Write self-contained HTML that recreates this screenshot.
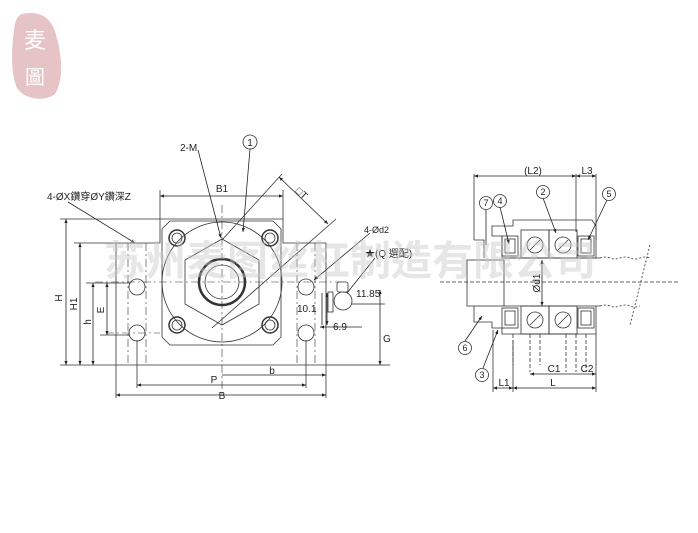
<!DOCTYPE html>
<html><head><meta charset="utf-8"><style>
html,body{margin:0;padding:0;background:#fff;}
svg{display:block;}
text{font-family:"Liberation Sans","Noto Sans CJK TC",sans-serif;fill:#222;}
</style></head><body>
<svg width="698" height="533" viewBox="0 0 698 533" xmlns="http://www.w3.org/2000/svg">
<defs>
<marker id="a" viewBox="0 0 10 10" refX="10" refY="5" markerWidth="7" markerHeight="5" orient="auto-start-reverse"><path d="M0,1 L10,5 L0,9 z" fill="#222"/></marker>
</defs>
<!-- logo -->
<path d="M22,14 C40,10 52,18 56,35 C62,55 64,80 55,94 C45,102 25,100 17,88 C10,72 12,45 14,30 C15,20 18,15 22,14 Z" fill="#e6c3c5"/>
<text x="35" y="48" font-size="22" text-anchor="middle" style="fill:#fff" font-family="Noto Serif CJK SC,serif">麦</text>
<text x="35" y="84" font-size="20" text-anchor="middle" style="fill:#fff" font-family="Noto Serif CJK SC,serif">圖</text>

<g stroke="#333" stroke-width="0.8" fill="none">
<!-- left drawing body -->
<path d="M116,243 H160 V219 H283 V243 H326 V365 H116 Z"/>
<path d="M170,221 H273 L281,229 V337 L273,345 H170 L162,337 V229 Z"/>
<circle cx="222" cy="282" r="60"/>
<polygon points="222,239 259,260 259,304 222,325 185,304 185,260"/>
<circle cx="222" cy="282" r="23" stroke-width="2.5"/>
<circle cx="222" cy="282" r="17"/>
<g stroke-width="1.5">
<circle cx="177" cy="238" r="8"/><circle cx="270" cy="238" r="8"/>
<circle cx="177" cy="325" r="8"/><circle cx="270" cy="325" r="8"/>
</g>
<circle cx="177" cy="238" r="5"/><circle cx="270" cy="238" r="5"/>
<circle cx="177" cy="325" r="5"/><circle cx="270" cy="325" r="5"/>
<circle cx="137" cy="287" r="8"/><circle cx="306" cy="287" r="8"/>
<circle cx="137" cy="333" r="8"/><circle cx="306" cy="333" r="8"/>
<g stroke-dasharray="8,3,2,3" stroke-width="0.6">
<line x1="128" y1="243" x2="128" y2="365"/><line x1="146" y1="243" x2="146" y2="365"/>
<line x1="297" y1="243" x2="297" y2="365"/><line x1="315" y1="243" x2="315" y2="365"/>
<line x1="222" y1="205" x2="222" y2="395"/>
<line x1="95" y1="282" x2="345" y2="282"/>
<line x1="106" y1="333" x2="160" y2="333"/>
</g>
<!-- extension lines -->
<line x1="60" y1="219" x2="160" y2="219"/><line x1="74" y1="243" x2="116" y2="243"/>
<line x1="86" y1="283" x2="130" y2="283"/><line x1="100" y1="335" x2="130" y2="335"/>
<line x1="60" y1="365" x2="116" y2="365"/>
<line x1="160" y1="190" x2="160" y2="219"/><line x1="283" y1="190" x2="283" y2="219"/>
<line x1="116" y1="365" x2="116" y2="398"/><line x1="326" y1="365" x2="326" y2="398"/>
<line x1="137" y1="340" x2="137" y2="388"/><line x1="306" y1="340" x2="306" y2="388"/>
<line x1="222" y1="240" x2="282" y2="174"/>
<line x1="212" y1="328" x2="336" y2="219"/>
</g>
<g stroke="#222" stroke-width="0.8" fill="none">
<line x1="66" y1="219" x2="66" y2="365" marker-start="url(#a)" marker-end="url(#a)"/>
<line x1="80" y1="243" x2="80" y2="365" marker-start="url(#a)" marker-end="url(#a)"/>
<line x1="93" y1="283" x2="93" y2="365" marker-start="url(#a)" marker-end="url(#a)"/>
<line x1="107" y1="283" x2="107" y2="335" marker-start="url(#a)" marker-end="url(#a)"/>
<line x1="160" y1="196" x2="283" y2="196" marker-start="url(#a)" marker-end="url(#a)"/>
<line x1="137" y1="385" x2="306" y2="385" marker-start="url(#a)" marker-end="url(#a)"/>
<line x1="222" y1="375" x2="326" y2="375" marker-end="url(#a)"/>
<line x1="116" y1="395" x2="326" y2="395" marker-start="url(#a)" marker-end="url(#a)"/>
<line x1="279" y1="177" x2="328" y2="224" marker-start="url(#a)" marker-end="url(#a)"/>
<!-- leaders -->
<line x1="68" y1="202" x2="135" y2="243" marker-end="url(#a)"/>
<line x1="198" y1="150" x2="221" y2="238" marker-end="url(#a)"/>
<line x1="250" y1="149" x2="243" y2="232" marker-end="url(#a)"/>
<line x1="370" y1="233" x2="314" y2="280" marker-end="url(#a)"/>
<line x1="375" y1="258" x2="343" y2="298" marker-end="url(#a)"/>
<!-- nipple dims -->
<line x1="322" y1="293" x2="322" y2="325"/>
<line x1="327" y1="293" x2="327" y2="325" marker-start="url(#a)" marker-end="url(#a)"/>
<line x1="320" y1="327" x2="362" y2="327" marker-start="url(#a)"/>
<line x1="342" y1="304" x2="385" y2="304"/>
<line x1="380" y1="290" x2="380" y2="365" marker-start="url(#a)" marker-end="url(#a)"/>
<line x1="326" y1="365" x2="390" y2="365"/>
</g>
<g stroke="#333" stroke-width="0.8" fill="#fff">
<rect x="328" y="292" width="5" height="20"/>
<circle cx="343" cy="301" r="9"/>
<rect x="337" y="282" width="11" height="10" rx="2"/>
</g>
<circle cx="250" cy="142" r="7" fill="#fff" stroke="#333" stroke-width="0.8"/>
<text x="250" y="146" font-size="10" text-anchor="middle">1</text>
<g font-size="10">
<text x="47" y="200">4-ØX鑽穿ØY鑽深Z</text>
<text x="180" y="151">2-M</text>
<text x="222" y="192" text-anchor="middle">B1</text>
<text x="296" y="195" transform="rotate(44 300 192)">□T</text>
<text x="364" y="233" font-size="9">4-Ød2</text>
<text x="365" y="257">★(Q 選配)</text>
<text x="356" y="297">11.85</text>
<text x="297" y="312">10.1</text>
<text x="333" y="330">6.9</text>
<text x="383" y="342" font-family="Liberation Serif,serif">G</text>
<text x="62" y="298" transform="rotate(-90 62 298)" text-anchor="middle">H</text>
<text x="77" y="304" transform="rotate(-90 77 304)" text-anchor="middle">H1</text>
<text x="91" y="322" transform="rotate(-90 91 322)" text-anchor="middle">h</text>
<text x="104" y="310" transform="rotate(-90 104 310)" text-anchor="middle">E</text>
<text x="214" y="383" text-anchor="middle">P</text>
<text x="272" y="374" text-anchor="middle">b</text>
<text x="222" y="399" text-anchor="middle">B</text>
</g>

<!-- right drawing -->
<g stroke="#333" stroke-width="0.8" fill="none">
<line x1="474" y1="174" x2="474" y2="240"/>
<line x1="576" y1="174" x2="576" y2="232"/>
<line x1="596" y1="174" x2="596" y2="240"/>
<path d="M513,220 H592 L596,226 V258 H502 V236 H492 V226 H513 Z"/>
<path d="M474,240 H484 V258"/>
<rect x="467" y="260" width="37" height="46"/>
<line x1="504" y1="258" x2="600" y2="258"/><line x1="504" y1="306" x2="600" y2="306"/>
<path d="M600,258 q5,-2 10,0 t10,0 t10,0 t10,0 t10,0" stroke-dasharray="2,2"/>
<path d="M600,306 q5,-2 10,0 t10,0 t10,0 t10,0" stroke-dasharray="2,2"/>
<line x1="650" y1="245" x2="630" y2="325" stroke-dasharray="2,2"/>
<path d="M474,306 V322 H492 V328 H502 V334 H596 V306"/>
<rect x="502" y="236" width="16" height="20"/><rect x="505" y="239" width="10" height="14"/>
<rect x="502" y="308" width="16" height="20"/><rect x="505" y="311" width="10" height="14"/>
<rect x="578" y="236" width="16" height="20"/><rect x="581" y="239" width="10" height="14"/>
<rect x="578" y="308" width="16" height="20"/><rect x="581" y="311" width="10" height="14"/>
<rect x="521" y="230" width="28" height="28"/><rect x="549" y="230" width="28" height="28"/>
<rect x="521" y="306" width="28" height="28"/><rect x="549" y="306" width="28" height="28"/>
<circle cx="535" cy="245" r="8"/><circle cx="563" cy="245" r="8"/>
<circle cx="535" cy="320" r="8"/><circle cx="563" cy="320" r="8"/>
<line x1="530" y1="250" x2="540" y2="240"/><line x1="558" y1="250" x2="568" y2="240"/>
<line x1="530" y1="325" x2="540" y2="315"/><line x1="558" y1="325" x2="568" y2="315"/>
<g stroke-dasharray="4,2">
<line x1="513" y1="334" x2="513" y2="365"/><line x1="530" y1="334" x2="530" y2="372"/>
<line x1="540" y1="334" x2="540" y2="365"/><line x1="566" y1="334" x2="566" y2="372"/>
<line x1="576" y1="334" x2="576" y2="372"/><line x1="586" y1="334" x2="586" y2="372"/>
<line x1="440" y1="282" x2="680" y2="282"/>
</g>
<line x1="493" y1="330" x2="493" y2="392"/><line x1="513" y1="340" x2="513" y2="392"/>
<line x1="596" y1="334" x2="596" y2="392"/>
</g>
<g stroke="#222" stroke-width="0.8" fill="none">
<line x1="474" y1="176" x2="576" y2="176" marker-start="url(#a)" marker-end="url(#a)"/>
<line x1="576" y1="176" x2="596" y2="176" marker-start="url(#a)" marker-end="url(#a)"/>
<line x1="542" y1="260" x2="542" y2="306" marker-start="url(#a)" marker-end="url(#a)"/>
<line x1="530" y1="374" x2="596" y2="374" marker-start="url(#a)" marker-end="url(#a)"/>
<line x1="493" y1="388" x2="513" y2="388" marker-start="url(#a)" marker-end="url(#a)"/>
<line x1="513" y1="388" x2="596" y2="388" marker-start="url(#a)" marker-end="url(#a)"/>
<line x1="543" y1="198" x2="556" y2="233" marker-end="url(#a)"/>
<line x1="607" y1="200" x2="588" y2="240" marker-end="url(#a)"/>
<line x1="500" y1="207" x2="509" y2="244" marker-end="url(#a)"/>
<line x1="486" y1="210" x2="486" y2="245"/>
<line x1="465" y1="341" x2="482" y2="316" marker-end="url(#a)"/>
<line x1="483" y1="368" x2="498" y2="330" marker-end="url(#a)"/>
</g>
<g fill="#fff" stroke="#333" stroke-width="0.8">
<circle cx="486" cy="203" r="6.5"/><circle cx="500" cy="201" r="6.5"/>
<circle cx="543" cy="192" r="6.5"/><circle cx="609" cy="194" r="6.5"/>
<circle cx="465" cy="348" r="6.5"/><circle cx="482" cy="375" r="6.5"/>
</g>
<g font-size="9" text-anchor="middle">
<text x="486" y="206">7</text><text x="500" y="204">4</text><text x="543" y="195">2</text>
<text x="609" y="197">5</text><text x="465" y="351">6</text><text x="482" y="378">3</text>
</g>
<g font-size="10" text-anchor="middle">
<text x="533" y="174">(L2)</text><text x="587" y="174">L3</text>
<text x="554" y="372">C1</text><text x="587" y="372">C2</text>
<text x="504" y="386">L1</text><text x="553" y="386">L</text>
<text x="540" y="283" transform="rotate(-90 540 283)">Ød1</text>
</g>

<!-- watermark -->
<text x="104" y="275" font-size="41" style="fill:#c8c8c8;fill-opacity:0.45" font-family="Noto Sans CJK SC,sans-serif" font-weight="bold">苏州麦图丝杠制造有限公司</text>
</svg>
</body></html>
